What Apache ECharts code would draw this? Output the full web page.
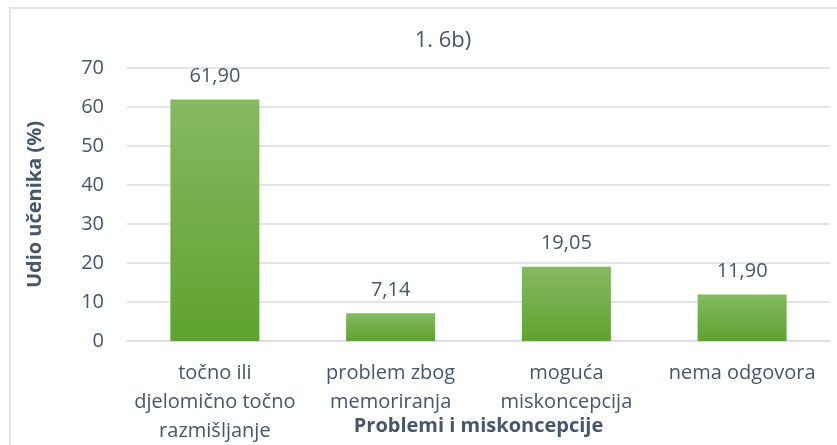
<!DOCTYPE html>
<html>
<head>
<meta charset="utf-8">
<script src="https://cdn.jsdelivr.net/npm/echarts@6/dist/echarts.min.js"></script>
<style>
  html, body { margin: 0; padding: 0; background: #fff; }
  #main { width: 837px; height: 445px; }
</style>
</head>
<body>
<div id="main"></div>
<script>
// podaci
var categories = ['točno ili\ndjelomično točno\nrazmišljanje', 'problem zbog\nmemoriranja', 'moguća\nmiskoncepcija', 'nema odgovora'];
var values = [61.90, 7.14, 19.05, 11.90];
var yTicks = [0, 10, 20, 30, 40, 50, 60, 70];

var textColor = '#46566b';
var fontFam = 'Open Sans, sans-serif';

var chart = echarts.init(document.getElementById('main'));
var option = {
    animation: false,
    title: {
        text: '1. 6b)',
        left: 438,
        top: 25,
        textAlign: 'center',
        textStyle: { color: textColor, fontFamily: fontFam, fontSize: 22, fontWeight: 'normal' }
    },
    graphic: [{
        type: 'rect',
        shape: { x: 10, y: 8, width: 840, height: 450 },
        style: { fill: 'none', stroke: '#d9dde3', lineWidth: 1.5 },
        silent: true
    }],
    grid: { left: 127, right: 7, top: 68, bottom: 104, containLabel: false, outerBoundsMode: 'none' },
    xAxis: {
        type: 'category',
        data: categories,
        name: 'Problemi i miskoncepcije',
        nameLocation: 'middle',
        nameGap: 75,
        nameMoveOverlap: false,
        nameTextStyle: { color: textColor, fontFamily: fontFam, fontSize: 20, fontWeight: 'bold' },
        axisLine: { lineStyle: { color: '#d9dde3', width: 1.5 } },
        axisTick: { show: false },
        axisLabel: {
            color: textColor, fontFamily: fontFam, fontSize: 20,
            lineHeight: 29, margin: 18, interval: 0
        }
    },
    yAxis: {
        type: 'value',
        min: yTicks[0],
        max: yTicks[yTicks.length - 1],
        interval: 10,
        name: 'Udio učenika (%)',
        nameLocation: 'middle',
        nameGap: 82,
        nameRotate: 90,
        nameMoveOverlap: false,
        nameTextStyle: { color: textColor, fontFamily: fontFam, fontSize: 20, fontWeight: 'bold' },
        axisLine: { show: false },
        axisTick: { show: false },
        axisLabel: { color: textColor, fontFamily: fontFam, fontSize: 20, margin: 23 },
        splitLine: { lineStyle: { color: '#d9dde3', width: 1.5 } }
    },
    series: [{
        type: 'bar',
        data: values,
        barWidth: 89,
        itemStyle: {
            color: new echarts.graphic.LinearGradient(0, 0, 0, 1, [
                { offset: 0, color: '#85b962' },
                { offset: 1, color: '#5fa22f' }
            ])
        },
        label: {
            show: true,
            position: 'top',
            distance: 13,
            color: textColor,
            fontFamily: fontFam,
            fontSize: 20,
            formatter: function (p) { return p.value.toFixed(2).replace('.', ','); }
        }
    }]
};
chart.setOption(option);
</script>
</body>
</html>
